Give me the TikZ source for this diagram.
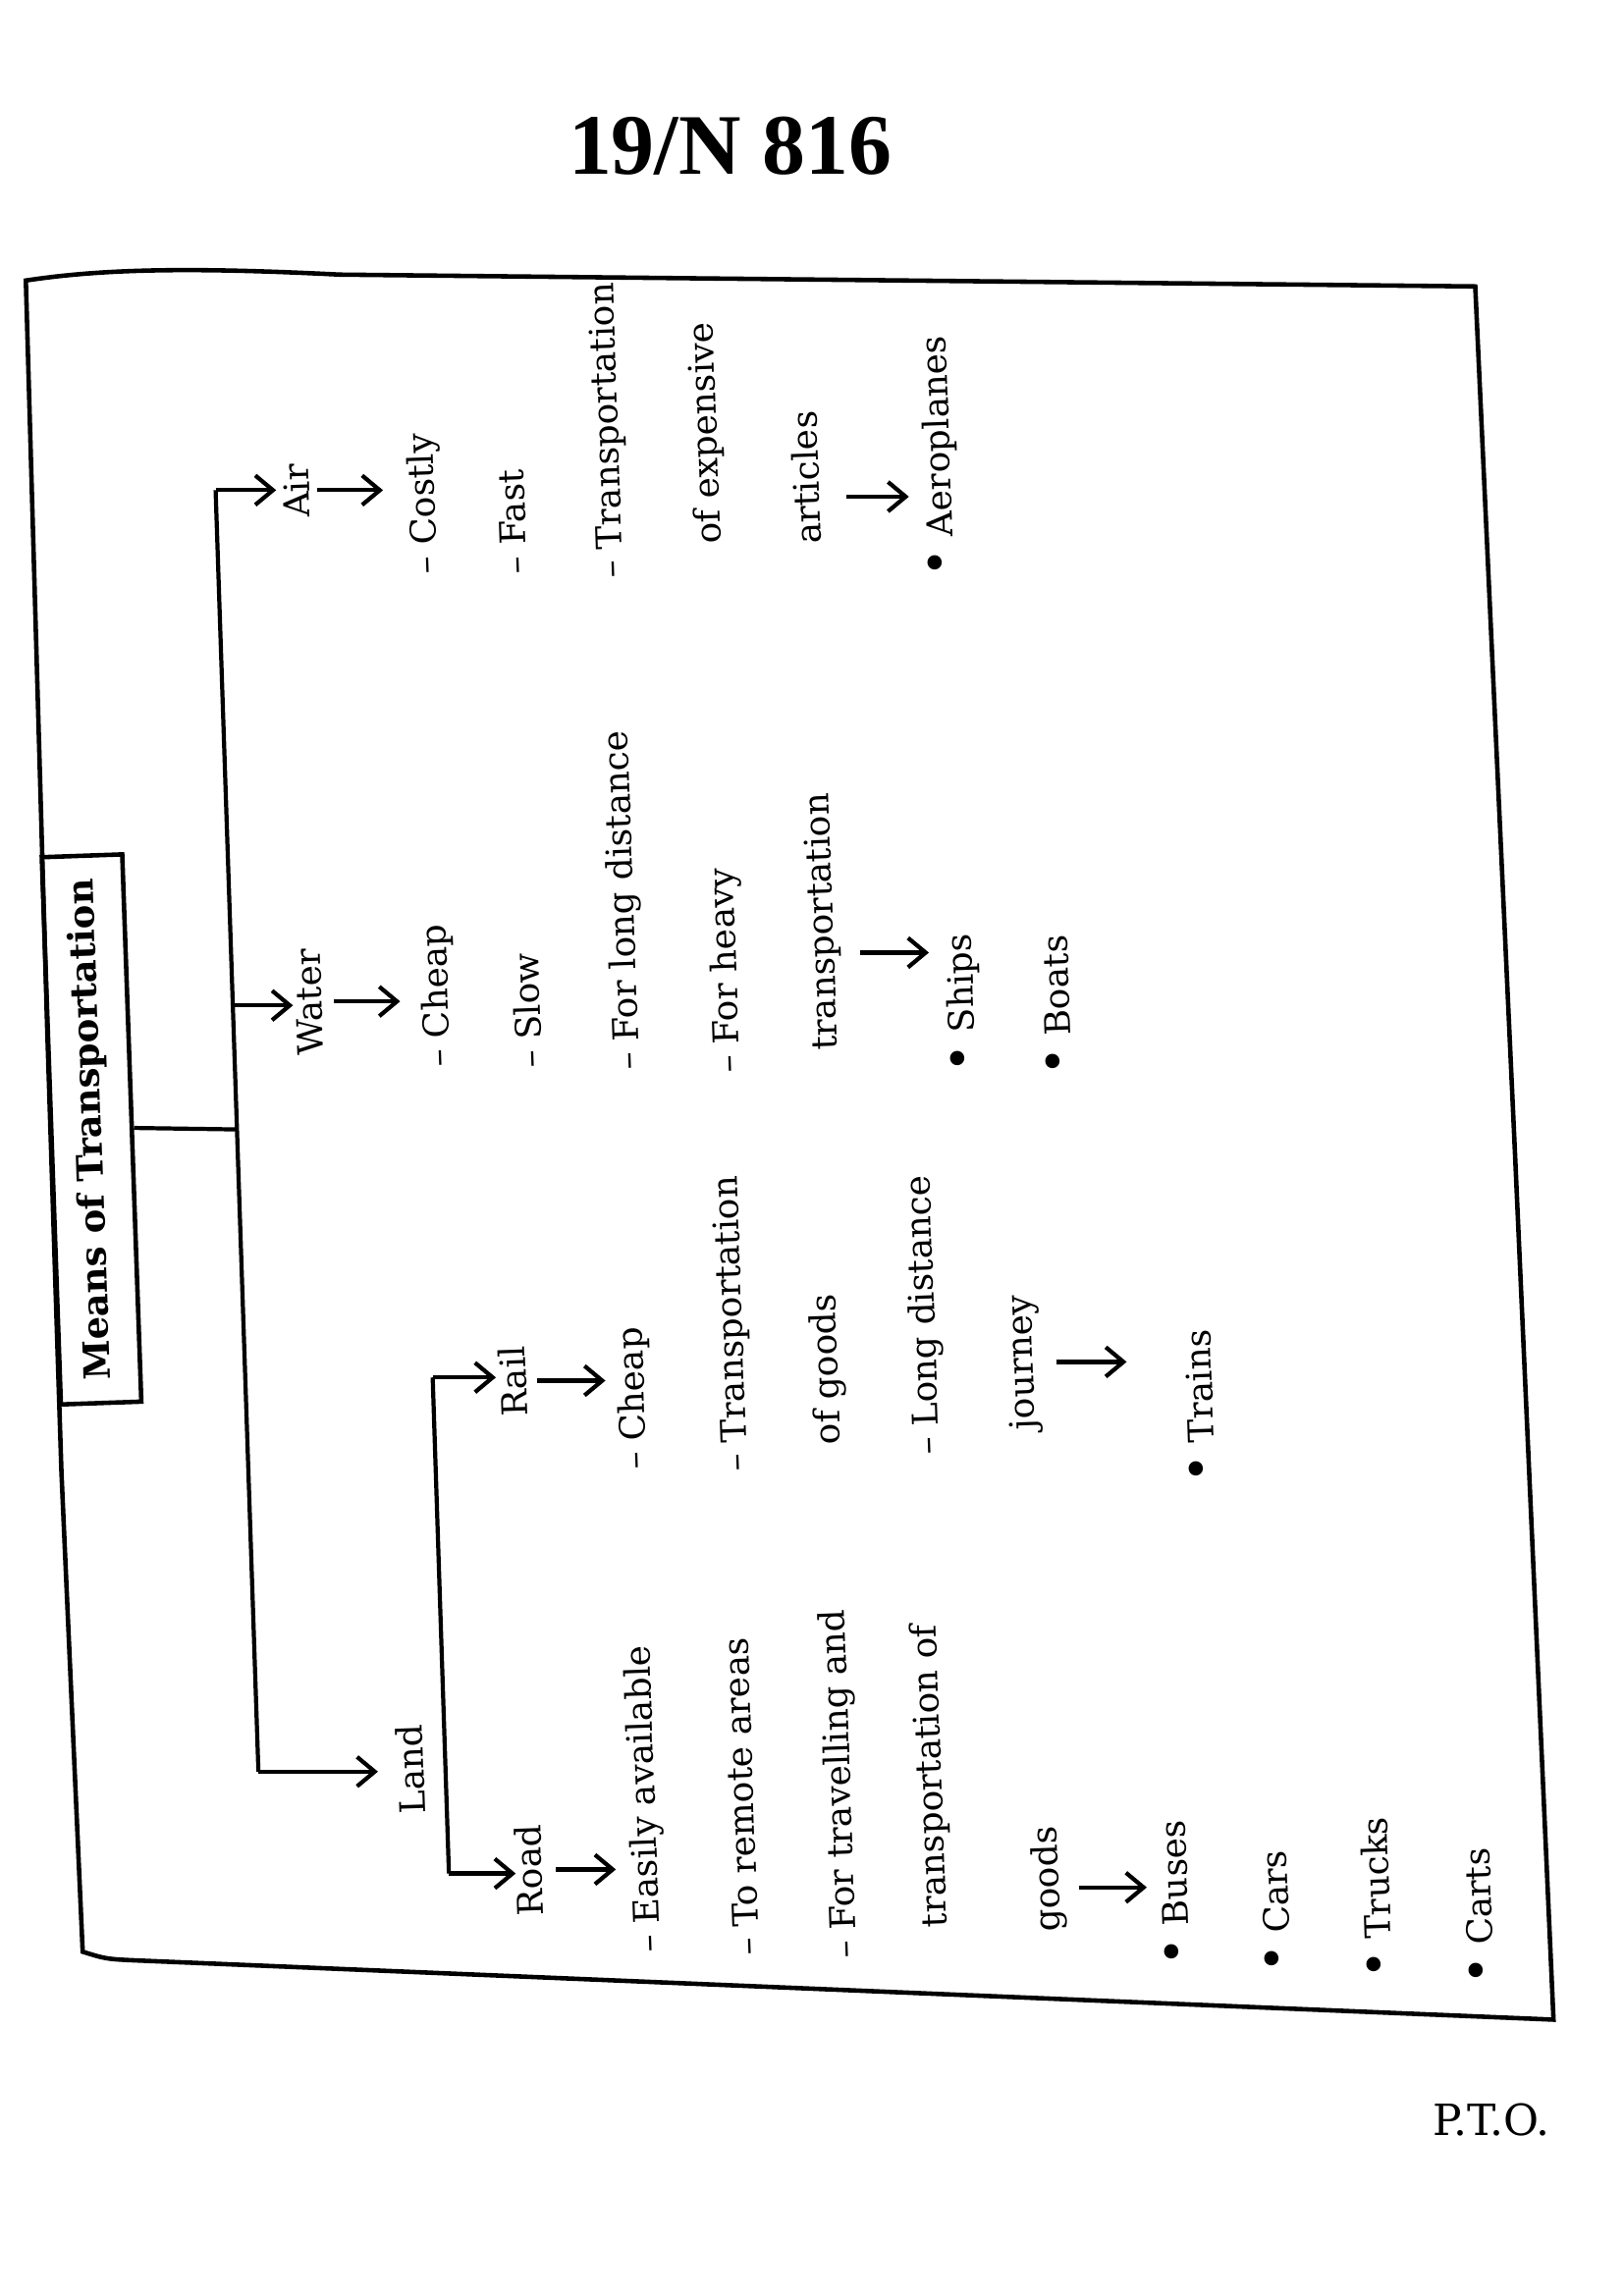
\documentclass[tikz,border=0pt]{standalone}
\usepackage{fontspec}
\setmainfont{DejaVu Serif}
\newfontfamily\headfont{Liberation Serif}
\usetikzlibrary{arrows.meta}
\newcommand{\dotmark}{\scalebox{1.4}{\textbullet}\ }

\begin{document}
\begin{tikzpicture}[x=0.01504cm,y=-0.01504cm,
        item/.style={rotate=92,anchor=west,inner sep=0pt,text height=7.4pt,text depth=2.2pt,font=\fontsize{10.2}{12}\selectfont},
        conn/.style={line width=1.2pt},
        arr/.style={line width=1.2pt,-{Straight Barb[length=1.8mm,width=3mm]}}]
            % page
            \useasboundingbox (0,0) rectangle (1099.7,1555.2);
            \node[font=\headfont\bfseries\fontsize{25}{25}\selectfont] (code) at (494.5,99) {19/N 816};
            \node[font=\fontsize{12.5}{13}\selectfont] (pto) at (1010,1436) {P.T.O.};

            % frame
            \draw[line width=1.3pt] (17.5,190) .. controls (70,182) and (130,181) .. (230,186) -- (999,194) -- (1026,783) -- (1052,1368) -- (95,1328) .. controls (72,1327) .. (56,1322) -- (41.6,997) -- (32,698) -- cycle;

            % root and main bracket
            \node[rotate=92,draw,line width=1.3pt,minimum width=5.58cm,minimum height=0.82cm,inner sep=0pt,font=\bfseries\fontsize{10.5}{12}\selectfont] (means) at (62,765) {Means of Transportation};
            \coordinate (hub) at (160,765);
            \coordinate (airc) at (146,332);
            \coordinate (waterc) at (157.5,681);
            \coordinate (landc) at (175,1200);
            \draw[conn] (means.south) -- (hub);
            \draw[conn] (airc) -- (landc);

            % air
            \node[item] (air) at (204,351) {Air};
            \node[item] (a1) at (290,389) {\textendash\ Costly};
            \node[item] (a2) at (351,389) {\textendash\ Fast};
            \node[item] (a3) at (416,392) {\textendash\ Transportation};
            \node[item] (a4) at (482,369) {of expensive};
            \node[item] (a5) at (550,369) {articles};
            \node[item] (a6) at (640,391) {\dotmark Aeroplanes};
            \coordinate (artarr) at ([yshift=-2mm]a5.south);
            \draw[arr,shorten >=0.7mm] (airc) -- (airc -| air.north);
            \draw[arr,shorten >=2.6mm] (air.south) -- (air.south -| a1.north);
            \draw[arr,shorten <=2mm,shorten >=1.5mm] (artarr) -- (artarr -| a6.north);

            % water
            \node[item] (water) at (213,715) {Water};
            \node[item] (w1) at (299,723) {\textendash\ Cheap};
            \node[item] (w2) at (361,724) {\textendash\ Slow};
            \node[item] (w3) at (427,725) {\textendash\ For long distance};
            \node[item] (w4) at (495,727) {\textendash\ For heavy};
            \node[item] (w5) at (561,712) {transportation};
            \node[item] (w6) at (655,727) {\dotmark Ships};
            \node[item] (w7) at (720,729) {\dotmark Boats};
            \coordinate (shiparr) at ([yshift=-3.2mm]w5.south);
            \draw[arr,shorten >=0.25mm] (waterc) -- (waterc -| water.north);
            \draw[arr,shorten <=0.4mm,shorten >=2.2mm] (water.south) -- (water.south -| w1.north);
            \draw[arr,shorten <=1.9mm,shorten >=1.9mm] (shiparr) -- (shiparr -| w6.north);

            % land
            \node[item] (land) at (282,1229) {Land};
            \draw[arr,shorten >=2mm] (landc) -- (landc -| land.north);
            \coordinate (railc) at (293,933);
            \coordinate (roadc) at (304,1269);
            \draw[conn] (railc) -- (roadc);

            % rail
            \node[item] (rail) at (351,960) {Rail};
            \node[item] (r1) at (432,996) {\textendash\ Cheap};
            \node[item] (r2) at (500,997) {\textendash\ Transportation};
            \node[item] (r3) at (563,979) {of goods};
            \node[item] (r4) at (630,986) {\textendash\ Long distance};
            \node[item] (r5) at (695,969) {journey};
            \node[item] (r6) at (817,1005) {\dotmark Trains};
            \draw[arr,shorten >=0.4mm] (railc) -- (railc -| rail.north);
            \draw[arr,shorten <=0.25mm,shorten >=1.3mm] (rail.south) -- (rail.south -| r1.north);
            \draw[arr,shorten <=1.6mm,shorten >=6.1mm] (r5.south) -- (r5.south -| r6.north);

            % road
            \node[item] (road) at (362,1298) {Road};
            \node[item] (d1) at (441,1323) {\textendash\ Easily available};
            \node[item] (d2) at (508,1325) {\textendash\ To remote areas};
            \node[item] (d3) at (574,1327) {\textendash\ For travelling and};
            \node[item] (d4) at (635,1306) {transportation of};
            \node[item] (d5) at (712,1309) {goods};
            \node[item] (d6) at (800,1332) {\dotmark Buses};
            \node[item] (d7) at (868,1337) {\dotmark Cars};
            \node[item] (d8) at (937,1341) {\dotmark Trucks};
            \node[item] (d9) at (1006,1345) {\dotmark Carts};
            \coordinate (busarr) at ([yshift=-0.9mm]d5.south);
            \draw[arr] (roadc) -- (roadc -| road.north);
            \draw[arr,shorten <=0.55mm,shorten >=1.3mm] (road.south) -- (road.south -| d1.north);
            \draw[arr,shorten <=1.2mm,shorten >=1.5mm] (busarr) -- (busarr -| d6.north);
        \end{tikzpicture}
\end{document}
